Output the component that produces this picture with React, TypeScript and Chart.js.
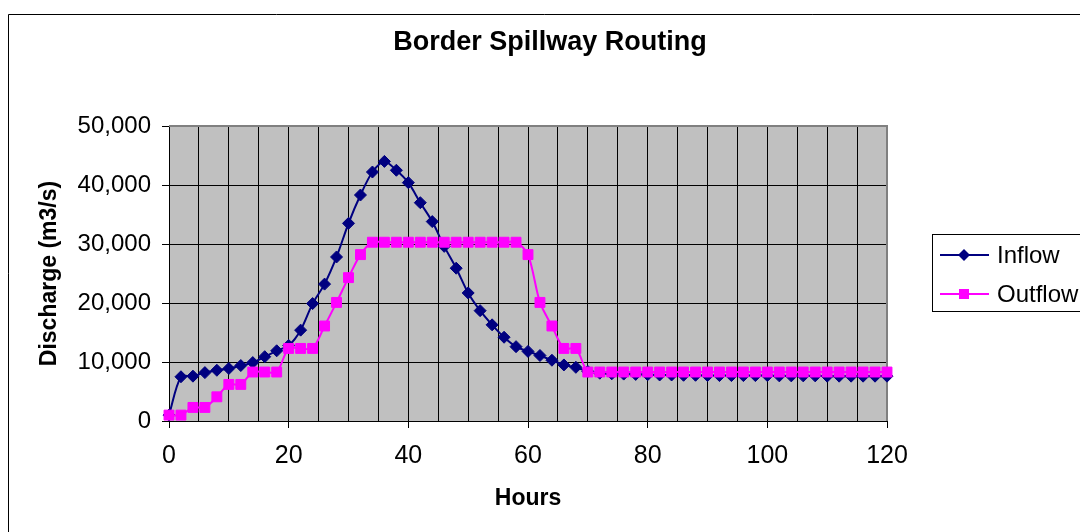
import React, { useEffect, useRef } from 'react';
import { Chart, registerables } from 'chart.js';

Chart.register(...registerables);

const TITLE = 'Border Spillway Routing';
const X_TITLE = 'Hours';
const Y_TITLE = 'Discharge (m3/s)';

const HOURS = [
  0, 2, 4, 6, 8, 10, 12, 14, 16, 18, 20, 22, 24, 26, 28, 30, 32, 34, 36, 38,
  40, 42, 44, 46, 48, 50, 52, 54, 56, 58, 60, 62, 64, 66, 68, 70, 72, 74, 76, 78,
  80, 82, 84, 86, 88, 90, 92, 94, 96, 98, 100, 102, 104, 106, 108, 110, 112, 114, 116, 118,
  120,
];

const INFLOW = [
  1000, 7500, 7600, 8200, 8600, 8900, 9400, 9900, 10900, 11900,
  12800, 15400, 19900, 23200, 27800, 33500, 38300, 42200, 44000, 42500,
  40400, 37000, 33800, 29600, 25900, 21700, 18700, 16300, 14200, 12600,
  11800, 11100, 10300, 9500, 9100, 8400, 8100, 8000, 7950, 7900,
  7850, 7800, 7800, 7750, 7750, 7700, 7700, 7700, 7700, 7700,
  7700, 7650, 7650, 7650, 7650, 7600, 7600, 7600, 7600, 7600,
  7600,
];

const OUTFLOW = [
  1000, 1000, 2300, 2300, 4100, 6200, 6200, 8300, 8300, 8300,
  12300, 12300, 12300, 16100, 20100, 24300, 28200, 30300, 30300, 30300,
  30300, 30300, 30300, 30300, 30300, 30300, 30300, 30300, 30300, 30300,
  28200, 20100, 16100, 12300, 12300, 8300, 8300, 8300, 8300, 8300,
  8300, 8300, 8300, 8300, 8300, 8300, 8300, 8300, 8300, 8300,
  8300, 8300, 8300, 8300, 8300, 8300, 8300, 8300, 8300, 8300,
  8300,
];

const X_MIN = 0;
const X_MAX = 120;
const X_GRID_STEP = 5;
const X_LABEL_STEP = 20;
const Y_MIN = 0;
const Y_MAX = 50000;
const Y_STEP = 10000;

const SERIES_NAMES = ['Inflow', 'Outflow'];
const SERIES_COLORS = ['#000080', '#FF00FF'];

const FONT = '"Liberation Sans", Arial, Helvetica, sans-serif';

const decorPlugin = {
  id: 'decor',
  beforeDraw(chart: any) {
    const { ctx, chartArea } = chart;
    ctx.save();
    ctx.fillStyle = '#ffffff';
    ctx.fillRect(0, 0, chart.width, chart.height);
    // outer chart border
    ctx.strokeStyle = '#000000';
    ctx.lineWidth = 1;
    ctx.beginPath();
    ctx.moveTo(8.5, chart.height + 5);
    ctx.lineTo(8.5, 14.5);
    ctx.lineTo(chart.width + 5, 14.5);
    ctx.stroke();
    // plot area fill
    ctx.fillStyle = '#C0C0C0';
    ctx.fillRect(chartArea.left, chartArea.top, chartArea.right - chartArea.left, chartArea.bottom - chartArea.top);
    ctx.restore();
  },
  beforeDatasetsDraw(chart: any) {
    const { ctx, chartArea } = chart;
    ctx.save();
    ctx.strokeStyle = '#808080';
    ctx.lineWidth = 2;
    ctx.beginPath();
    ctx.moveTo(chartArea.left, chartArea.top);
    ctx.lineTo(chartArea.right, chartArea.top);
    ctx.lineTo(chartArea.right, chartArea.bottom);
    ctx.stroke();
    ctx.restore();
  },
  afterDraw(chart: any) {
    const { ctx } = chart;
    ctx.save();
    // title
    ctx.fillStyle = '#000000';
    ctx.font = `bold 27px ${FONT}`;
    ctx.textAlign = 'center';
    ctx.textBaseline = 'middle';
    ctx.fillText(TITLE, 550, 43);

    // legend
    ctx.fillStyle = '#ffffff';
    ctx.fillRect(932, 234, 200, 78);
    ctx.strokeStyle = '#000000';
    ctx.lineWidth = 1;
    ctx.strokeRect(932.5, 234.5, 200, 77);
    const rows = [255, 294];
    SERIES_NAMES.forEach((name, i) => {
      const y = rows[i];
      const color = SERIES_COLORS[i];
      ctx.strokeStyle = color;
      ctx.lineWidth = 2;
      ctx.beginPath();
      ctx.moveTo(940, y);
      ctx.lineTo(989, y);
      ctx.stroke();
      ctx.fillStyle = color;
      ctx.beginPath();
      if (i === 0) {
        ctx.moveTo(964, y - 6);
        ctx.lineTo(970, y);
        ctx.lineTo(964, y + 6);
        ctx.lineTo(958, y);
        ctx.closePath();
      } else {
        ctx.rect(959, y - 5, 10, 10);
      }
      ctx.fill();
      ctx.fillStyle = '#000000';
      ctx.font = `24px ${FONT}`;
      ctx.textAlign = 'left';
      ctx.textBaseline = 'middle';
      ctx.fillText(name, 997, y + 1);
    });
    ctx.restore();
  },
};

export default function App() {
  const canvasRef = useRef<HTMLCanvasElement | null>(null);

  useEffect(() => {
    document.body.style.margin = '0';
    const canvas = canvasRef.current;
    if (!canvas) return;
    const chart = new Chart(canvas, {
      type: 'line',
      data: {
        datasets: [
          {
            label: SERIES_NAMES[0],
            data: HOURS.map((h, i) => ({ x: h, y: INFLOW[i] })),
            borderColor: SERIES_COLORS[0],
            backgroundColor: SERIES_COLORS[0],
            borderWidth: 2,
            pointStyle: 'rectRot',
            pointRadius: 6,
            pointBorderWidth: 1,
            tension: 0.3,
            clip: false,
            order: 1,
          } as any,
          {
            label: SERIES_NAMES[1],
            data: HOURS.map((h, i) => ({ x: h, y: OUTFLOW[i] })),
            borderColor: SERIES_COLORS[1],
            backgroundColor: SERIES_COLORS[1],
            borderWidth: 2,
            pointStyle: 'rect',
            pointRadius: 7,
            pointBorderWidth: 1,
            tension: 0.3,
            clip: false,
            order: 0,
          } as any,
        ],
      },
      options: {
        animation: false,
        responsive: false,
        devicePixelRatio: 1,
        layout: { padding: { top: 126, right: 193, left: 0, bottom: 0 } },
        plugins: {
          legend: { display: false },
          title: { display: false },
          tooltip: { enabled: false },
        },
        scales: {
          x: {
            type: 'linear',
            min: X_MIN,
            max: X_MAX,
            ticks: {
              stepSize: X_GRID_STEP,
              autoSkip: false,
              maxRotation: 0,
              padding: 13,
              color: '#000000',
              font: { family: FONT, size: 25 },
              callback: (v: any) => (Number(v) % X_LABEL_STEP === 0 ? String(v) : ''),
            },
            grid: {
              color: '#000000',
              lineWidth: 1,
              tickLength: 7,
              tickColor: (c: any) =>
                c.tick && Number(c.tick.value) % X_LABEL_STEP === 0 ? '#000000' : 'rgba(0,0,0,0)',
            },
            border: { color: '#000000', width: 1 },
            title: {
              display: true,
              text: X_TITLE,
              color: '#000000',
              font: { family: FONT, size: 23, weight: 'bold' },
              padding: { top: 0, bottom: 20 },
            },
            afterFit: (s: any) => {
              s.height = 111;
            },
          },
          y: {
            type: 'linear',
            min: Y_MIN,
            max: Y_MAX,
            ticks: {
              stepSize: Y_STEP,
              padding: 11,
              color: '#000000',
              font: { family: FONT, size: 24 },
              callback: (v: any) => Number(v).toLocaleString('en-US'),
            },
            grid: { color: '#000000', lineWidth: 1, tickLength: 7 },
            border: { color: '#000000', width: 1 },
            title: {
              display: true,
              text: Y_TITLE,
              color: '#000000',
              font: { family: FONT, size: 23, weight: 'bold' },
              padding: { top: 36, bottom: 0 },
            },
            afterFit: (s: any) => {
              s.width = 169;
            },
          },
        },
      } as any,
      plugins: [decorPlugin],
    });
    return () => chart.destroy();
  }, []);

  return (
    <div style={{ width: 1080, height: 532, overflow: 'hidden' }}>
      <canvas ref={canvasRef} width={1080} height={532} style={{ display: 'block' }} />
    </div>
  );
}
